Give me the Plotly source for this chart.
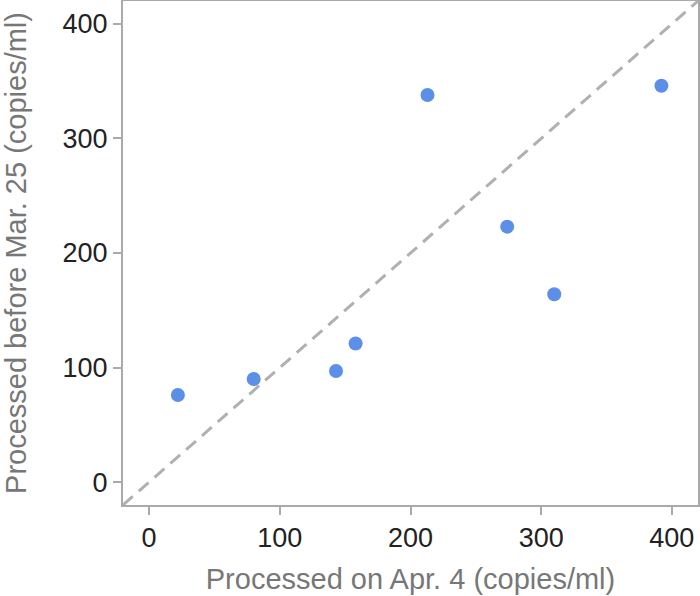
import plotly.graph_objects as go

x_apr4 = [22, 80, 143, 158, 213, 274, 310, 392]
y_mar25 = [76, 90, 97, 121, 338, 223, 164, 346]
tick_vals = [0, 100, 200, 300, 400]
tick_text = ["0", "100", "200", "300", "400"]
axis_range = [-20, 420]

fig = go.Figure()
fig.add_trace(go.Scatter(
    x=axis_range, y=axis_range, mode="lines",
    line=dict(color="#b0b0b0", width=3, dash="13px,8px"),
    hoverinfo="skip", showlegend=False))
fig.add_trace(go.Scatter(
    x=x_apr4, y=y_mar25, mode="markers",
    marker=dict(color="#5b8fe8", size=14, line=dict(width=0)),
    showlegend=False))

axis_common = dict(
    range=axis_range, tickvals=tick_vals, ticktext=tick_text,
    showgrid=False, zeroline=False, showline=True, linecolor="#aaaaaa",
    linewidth=2, mirror=True, ticks="outside", ticklen=8, tickwidth=2,
    tickcolor="#aaaaaa", tickfont=dict(family="Liberation Sans", size=27, color="#222222"),
    automargin=False)

fig.update_layout(
    width=700, height=596,
    margin=dict(l=123, r=2, t=1, b=91),
    paper_bgcolor="white", plot_bgcolor="white",
    xaxis=dict(**axis_common, title=dict(text="Processed on Apr. 4 (copies/ml)",
               font=dict(family="Liberation Sans", size=29, color="#777777"), standoff=16)),
    yaxis=dict(**axis_common, title=dict(text="Processed before Mar. 25 (copies/ml)",
               font=dict(family="Liberation Sans", size=29, color="#777777"), standoff=30)),
)
fig.write_html("out.html", config={"displayModeBar": False},
               post_script="document.body.style.margin='0';document.body.style.overflow='hidden';")
